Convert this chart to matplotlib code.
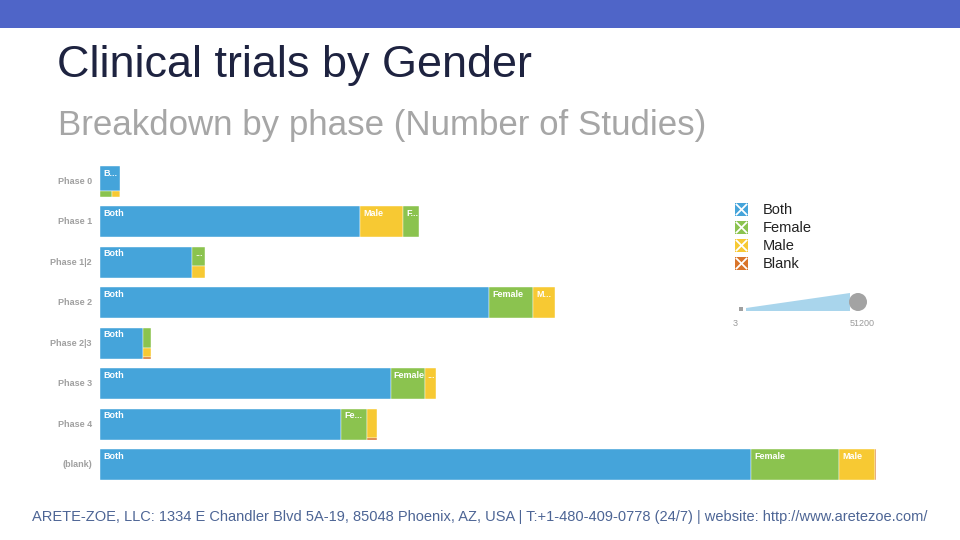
import matplotlib
matplotlib.use("Agg")
import matplotlib.pyplot as plt
from matplotlib.patches import Rectangle, Polygon, Circle

# ---------------- data ----------------
phases = ["Phase 0", "Phase 1", "Phase 1|2", "Phase 2", "Phase 2|3", "Phase 3", "Phase 4", "(blank)"]
genders = ["Both", "Female", "Male", "Blank"]
both   = [1300, 20450, 7240, 30600, 3380, 22850, 18950, 51200]
female = [170, 1260, 625, 3460, 420, 2675, 2045, 6920]
male   = [110, 3380, 395, 1730, 190, 930, 760, 2830]
blank  = [3, 0, 0, 0, 35, 0, 40, 80]
size_legend_labels = ["3", "51200"]

colors = {"Both": "#45A4DA", "Female": "#8BC34F", "Male": "#F7C933", "Blank": "#D9742A"}
series = {"Both": both, "Female": female, "Male": male, "Blank": blank}

plt.rcParams["font.family"] = ["Liberation Sans", "DejaVu Sans"]

W, H = 960, 540
fig = plt.figure(figsize=(9.6, 5.4), dpi=100)

# decoration layer in pixel coordinates
deco = fig.add_axes([0, 0, 1, 1])
deco.set_xlim(0, W)
deco.set_ylim(H, 0)
deco.axis("off")
deco.add_patch(Rectangle((0, 0), W, 28, color="#4F65C8", lw=0))
deco.text(57, 65, "Clinical trials by Gender", fontsize=32.4, color="#1E2340",
          va="center", ha="left")
deco.text(58, 126, "Breakdown by phase (Number of Studies)", fontsize=25.1,
          color="#A6A6A6", va="center", ha="left")
deco.text(480, 517, "ARETE-ZOE, LLC: 1334 E Chandler Blvd 5A-19, 85048 Phoenix, AZ, USA | "
          "T:+1-480-409-0778 (24/7) | website: http://www.aretezoe.com/",
          fontsize=10.55, color="#4D6595", va="center", ha="center")

# legend
for i, g in enumerate(genders):
    cy = 209.5 + i * 18
    deco.add_patch(Rectangle((735, cy - 6.5), 13, 13, color=colors[g], lw=0))
    deco.plot([736.5, 746.5], [cy - 5, cy + 5], color="white", lw=1.3)
    deco.plot([736.5, 746.5], [cy + 5, cy - 5], color="white", lw=1.3)
    deco.text(763, cy, g, fontsize=10.5, color="#222222", va="center", ha="left")

# size legend
deco.add_patch(Rectangle((739, 307), 4, 4, color="#A0A0A0", lw=0))
deco.add_patch(Polygon([(746, 308), (850, 293), (850, 311), (746, 311)],
                       closed=True, color="#A9D5EC", lw=0))
deco.add_patch(Circle((858, 302), 9, color="#A3A3A3", lw=0))
deco.text(735, 323, size_legend_labels[0], fontsize=6.5, color="#9A9A9A",
          ha="center", va="center")
deco.text(862, 323, size_legend_labels[1], fontsize=6.5, color="#9A9A9A",
          ha="center", va="center")

# ---------------- chart axes ----------------
ax_left, ax_right = 100, 880
ax_top, ax_bot = 161.25, 484.75
ax = fig.add_axes([ax_left / W, 1 - ax_bot / H, (ax_right - ax_left) / W, (ax_bot - ax_top) / H])
ax.set_xlim(0, 61350)
ax.set_ylim(len(phases) - 0.5, -0.5)
ax.axis("off")

# pixel scale factors from the axes transform
p0 = ax.transData.transform((0, 0))
px = ax.transData.transform((1, 1))
sx = abs(px[0] - p0[0])   # px per study
sy = abs(px[1] - p0[1])   # px per row unit
bar_h = 0.765

for i, p in enumerate(phases):
    ax.text(-8 / sx, i, p, fontsize=6.5, color="#A0A0A0",
            ha="right", va="center", fontweight="bold")


def worst(row, side):
    s = sum(row)
    return max(max(side * side * r / (s * s), (s * s) / (side * side * r)) for r in row)


def squarify(items, x, y, w, h):
    rects = []
    i = 0
    vals = [v for _, v in items]
    while i < len(items):
        if w >= h:
            row = [vals[i]]
            j = i + 1
            while j < len(vals) and worst(row + [vals[j]], h) <= worst(row, h):
                row.append(vals[j]); j += 1
            cw = sum(row) / h
            yy = y
            for k in range(i, j):
                rh = vals[k] / cw
                rects.append((items[k][0], x, yy, cw, rh))
                yy += rh
            x += cw; w -= cw
        else:
            row = [vals[i]]
            j = i + 1
            while j < len(vals) and worst(row + [vals[j]], w) <= worst(row, w):
                row.append(vals[j]); j += 1
            rh = sum(row) / w
            xx = x
            for k in range(i, j):
                rw = vals[k] / rh
                rects.append((items[k][0], xx, y, rw, rh))
                xx += rw
            y += rh; h -= rh
        i = j
    return rects


renderer = fig.canvas.get_renderer()
LAB_FS = 6.5


def fit_label(name, avail_w):
    cands = [name] + [name[:n] + "..." for n in range(len(name) - 1, -1, -1)]
    for c in cands:
        t = ax.text(0, 0, c, fontsize=LAB_FS, fontweight="bold")
        wpx = t.get_window_extent(renderer).width
        t.remove()
        if wpx + 3 <= avail_w + 0.2:
            return c
    return None


for i, p in enumerate(phases):
    items = [(g, series[g][i]) for g in genders if series[g][i] > 0]
    items.sort(key=lambda t: -t[1])
    Hpx = bar_h * sy
    total = sum(v for _, v in items)
    Wpx = total * sx
    areas = [(g, v * sx * Hpx) for g, v in items]
    rects = squarify(areas, 0.0, 0.0, Wpx, Hpx)
    top = i - bar_h / 2
    for g, rx, ry, rw, rh in rects:
        xd, yd = rx / sx, top + ry / sy
        wd, hd = rw / sx, rh / sy
        ax.add_patch(Rectangle((xd, yd), wd, hd, facecolor=colors[g],
                               edgecolor="white", lw=0.3))
        if rh >= 14:
            lab = fit_label(g, rw)
            if lab:
                ax.text(xd + 3 / sx, yd + 2.5 / sy, lab, fontsize=LAB_FS, fontweight="bold",
                        color="white", ha="left", va="top")

fig.savefig("out.png", dpi=100)
